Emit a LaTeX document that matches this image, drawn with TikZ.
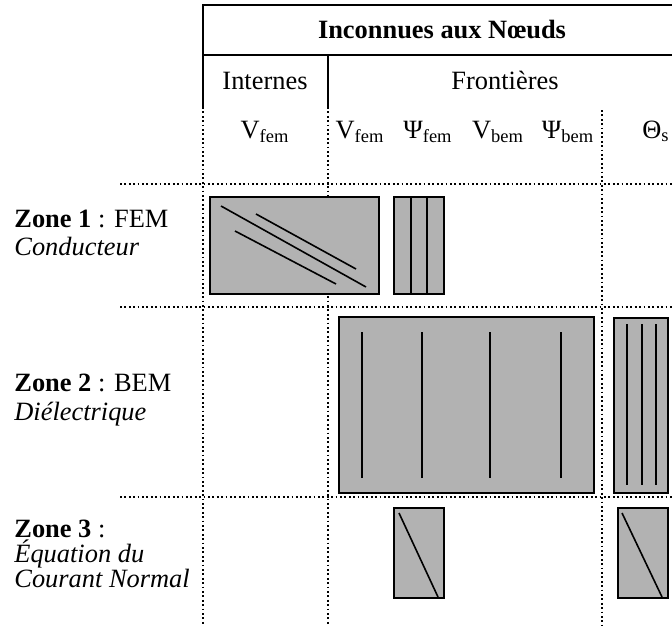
\documentclass[tikz,border=0pt]{standalone}
\usepackage{fontspec}
\setmainfont{Liberation Serif}
\tikzset{
  frameline/.style={line width=1pt},
  gridline/.style={line width=0.9pt,dash pattern=on 0.9pt off 1.3pt},
  block/.style={draw,line width=1pt,fill=black!30},
  entry/.style={line width=0.8pt},
  head/.style={anchor=base,inner sep=0pt},
  zonetext/.style={anchor=base west,inner sep=0pt}
}

\begin{document}
\begin{tikzpicture}[x=0.5pt,y=-0.5pt,font=\fontsize{13.2}{15}\selectfont]
  \useasboundingbox (0,0) rectangle (672,626);
  \def\xa{203}  \def\xb{328}  \def\xc{602}
  % header frame
  \draw[frameline] (672,5) -- (\xa,5) -- (\xa,107);
  \draw[frameline] (\xa,55) -- (672,55);
  \draw[frameline] (\xb,55) -- (\xb,107);
  % dotted grid
  \draw[gridline] (\xa,107) -- (\xa,626);
  \draw[gridline] (\xb,107) -- (\xb,626);
  \draw[gridline] (\xc,110) -- (\xc,626);
  \foreach \y in {184,307,497}
    \draw[gridline] (120,\y) -- (672,\y);
  % headers
  \node[head] (inconnues) at (442,39) {\textbf{Inconnues aux Nœuds}};
  \node[head] (internes)   at (265,90) {Internes};
  \node[head] (frontieres) at (505,90) {Frontières};
  \node[head] (vfemi) at (265,138) {V\textsubscript{fem}};
  \node[head] (vfem)  at (360,138) {V\textsubscript{fem}};
  \node[head] (psifem) at (428,138) {Ψ\textsubscript{fem}};
  \node[head] (vbem)  at (498,138) {V\textsubscript{bem}};
  \node[head] (psibem) at (568,138) {Ψ\textsubscript{bem}};
  \node[head,anchor=base east] (thetas) at (670,138) {Θ\textsubscript{s}};
  % zone labels
  \node[zonetext] (zoneA) at (14,227) {\textbf{Zone 1} : FEM};
  \node[zonetext] (zoneAi) at (14,255) {\textit{Conducteur}};
  \node[zonetext] (zoneB) at (14,391) {\textbf{Zone 2} : BEM};
  \node[zonetext] (zoneBi) at (14,420) {\textit{Diélectrique}};
  \node[zonetext] (zoneC) at (14,537) {\textbf{Zone 3} :};
  \node[zonetext] (zoneCi) at (14,562) {\textit{Équation du}};
  \node[zonetext] (zoneCii) at (14,587) {\textit{Courant Normal}};
  % zone 1 blocks
  \draw[block] (210,197) rectangle (379,294);
  \draw[entry] (221,206) -- (366,287);
  \draw[entry] (256,214) -- (356,269);
  \draw[entry] (235,231) -- (336,284);
  \draw[block] (394,197) rectangle (444,294);
  \foreach \x in {411,427}
    \draw[entry] (\x,197) -- (\x,294);
  % zone 2 blocks
  \draw[block] (339,317) rectangle (594,493);
  \foreach \x in {362,422,490,561}
    \draw[entry] (\x,332) -- (\x,478);
  \draw[block,line width=0.8pt] (614,318) rectangle (668,493);
  \foreach \x in {627,642,656}
    \draw[entry] (\x,324) -- (\x,485);
  % zone 3 blocks
  \draw[block] (394,508) rectangle (444,598);
  \draw[entry] (399,513) -- (438,597);
  \draw[block] (618,508) rectangle (668,598);
  \draw[entry] (622,513) -- (662,597);
\end{tikzpicture}
\end{document}
